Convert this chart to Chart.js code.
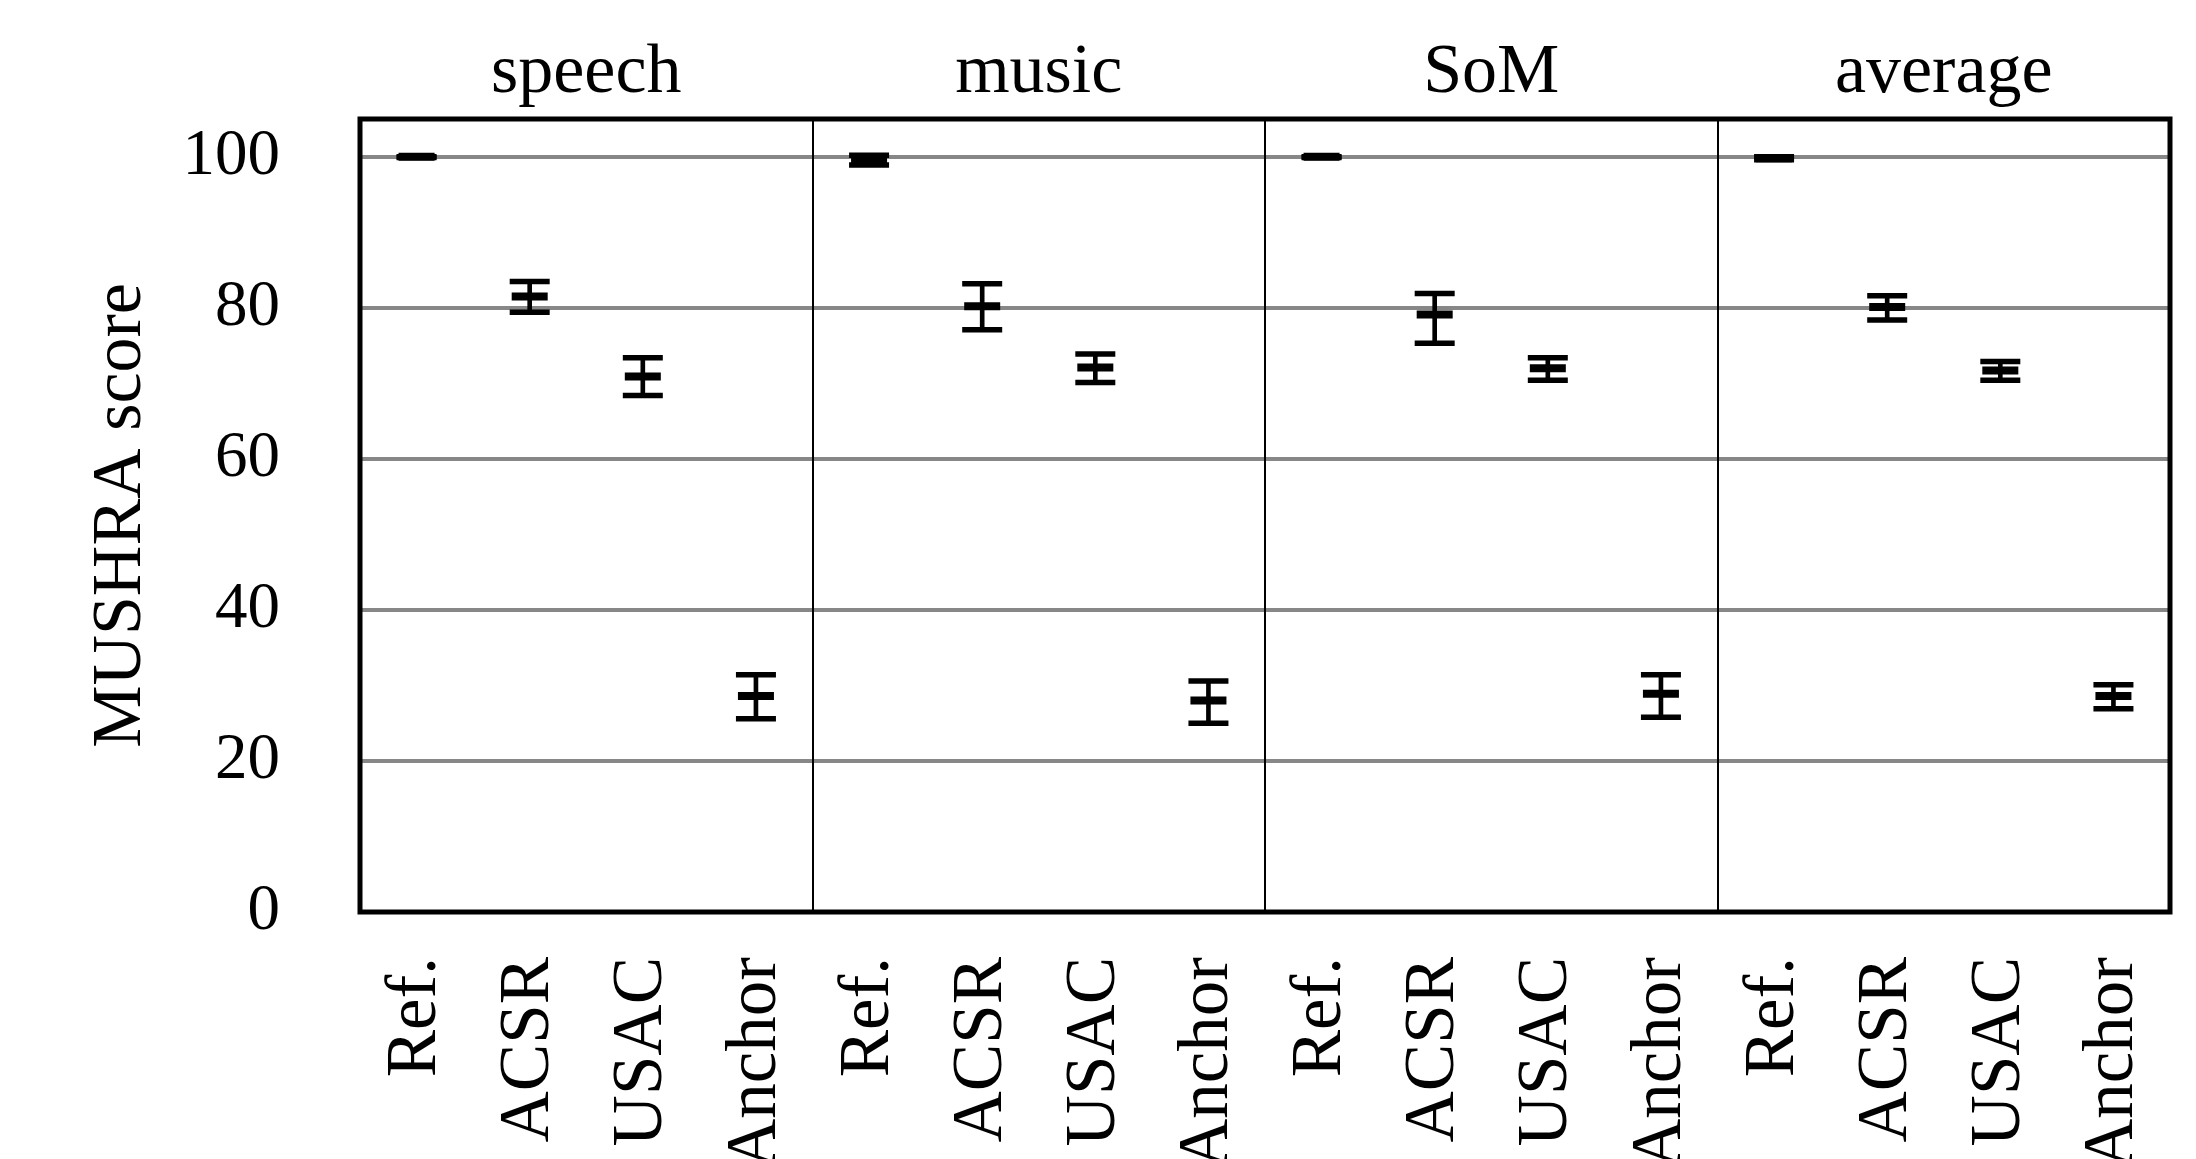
<!DOCTYPE html>
<html>
<head>
<meta charset="utf-8">
<title>MUSHRA scores</title>
<script src="https://cdn.jsdelivr.net/npm/chart.js@4.4.1/dist/chart.umd.min.js"></script>
<style>
  html, body { margin: 0; padding: 0; background: #fff; overflow: hidden; }
  #wrap { width: 2196px; height: 1159px; }
</style>
</head>
<body>
<div id="wrap"><canvas id="chart" width="2196" height="1159"></canvas></div>
<script>
// Test conditions (panels) and systems within each panel
const panels = ['speech', 'music', 'SoM', 'average'];
const systems = ['Ref.', 'ACSR', 'USAC', 'Anchor'];
const yTicks = [0, 20, 40, 60, 80, 100];

// Mean MUSHRA scores, one entry per system
const meanSpeech  = [100.0, 81.5, 70.9, 28.6];
const meanMusic   = [99.5, 80.2, 72.1, 28.0];
const meanSoM     = [100.0, 79.1, 72.0, 28.9];
const meanAverage = [99.8, 80.1, 71.7, 28.6];

// Lower ends of the confidence intervals
const lowSpeech  = [99.9, 79.4, 68.4, 25.6];
const lowMusic   = [98.9, 77.1, 70.1, 25.0];
const lowSoM     = [99.9, 75.3, 70.4, 25.8];
const lowAverage = [99.6, 78.4, 70.4, 26.9];

// Upper ends of the confidence intervals
const highSpeech  = [100.0, 83.5, 73.4, 31.4];
const highMusic   = [100.2, 83.2, 73.9, 30.6];
const highSoM     = [100.0, 81.9, 73.4, 31.4];
const highAverage = [100.0, 81.6, 72.9, 30.1];

const labels = panels.flatMap(() => systems);
const means = [...meanSpeech, ...meanMusic, ...meanSoM, ...meanAverage];
const lows  = [...lowSpeech, ...lowMusic, ...lowSoM, ...lowAverage];
const highs = [...highSpeech, ...highMusic, ...highSoM, ...highAverage];

const SERIF = 'Liberation Serif';

// Frame around the plot, separators between panels and the panel headings
const panelFrame = {
  id: 'panelFrame',
  beforeDatasetsDraw(chart) {
    const { ctx, chartArea: a, scales: { x } } = chart;
    const n = systems.length;
    ctx.save();
    ctx.strokeStyle = '#000';
    ctx.lineWidth = 2;
    for (let p = 1; p < panels.length; p++) {
      const px = Math.round(x.getPixelForValue(p * n - 0.5));
      ctx.beginPath();
      ctx.moveTo(px, a.top);
      ctx.lineTo(px, a.bottom);
      ctx.stroke();
    }
    ctx.lineWidth = 5;
    ctx.strokeRect(a.left, a.top, a.right - a.left, a.bottom - a.top);

    ctx.fillStyle = '#000';
    ctx.font = '70px "' + SERIF + '"';
    ctx.textAlign = 'center';
    ctx.textBaseline = 'alphabetic';
    panels.forEach((name, p) => {
      const l = x.getPixelForValue(p * n - 0.5);
      const r = x.getPixelForValue(p * n + n - 0.5);
      ctx.fillText(name, (l + r) / 2, a.top - 27);
    });
    ctx.restore();
  }
};

new Chart(document.getElementById('chart'), {
  type: 'bar',
  data: {
    labels: labels,
    datasets: [
      {
        // mean marker
        type: 'line',
        data: means,
        showLine: false,
        pointStyle: 'line',
        pointRadius: 18,
        pointHoverRadius: 18,
        pointBorderWidth: 8,
        pointBorderColor: '#000',
        pointBackgroundColor: '#000',
        order: 0
      },
      {
        // upper cap
        type: 'line',
        data: highs,
        showLine: false,
        pointStyle: 'line',
        pointRadius: 20,
        pointHoverRadius: 20,
        pointBorderWidth: 5.5,
        pointBorderColor: '#000',
        pointBackgroundColor: '#000',
        order: 1
      },
      {
        // lower cap
        type: 'line',
        data: lows,
        showLine: false,
        pointStyle: 'line',
        pointRadius: 20,
        pointHoverRadius: 20,
        pointBorderWidth: 5.5,
        pointBorderColor: '#000',
        pointBackgroundColor: '#000',
        order: 2
      },
      {
        // interval stem
        type: 'bar',
        data: lows.map((l, i) => [l, highs[i]]),
        backgroundColor: '#000',
        borderWidth: 0,
        barThickness: 4,
        order: 3
      }
    ]
  },
  options: {
    responsive: false,
    maintainAspectRatio: false,
    devicePixelRatio: 1,
    animation: false,
    layout: { padding: { top: 119, right: 26, left: 0, bottom: 0 } },
    plugins: {
      legend: { display: false },
      tooltip: { enabled: false }
    },
    scales: {
      x: {
        type: 'category',
        offset: true,
        grid: { display: false, drawTicks: false },
        border: { display: false },
        ticks: {
          autoSkip: false,
          minRotation: 90,
          maxRotation: 90,
          padding: 45,
          color: '#000',
          font: { family: SERIF, size: 71 }
        },
        afterFit(scale) {
          scale.height = 247;
          scale.paddingLeft = 0;
          scale.paddingRight = 0;
        }
      },
      y: {
        min: 0,
        max: 105,
        grid: { color: '#878787', lineWidth: 4, drawTicks: false },
        border: { display: false },
        afterBuildTicks(scale) { scale.ticks = yTicks.map(v => ({ value: v })); },
        ticks: {
          padding: 80,
          color: '#000',
          font: { family: SERIF, size: 65 }
        },
        title: {
          display: true,
          text: 'MUSHRA score',
          color: '#000',
          font: { family: SERIF, size: 70 },
          padding: { top: 80, bottom: 0 }
        },
        afterFit(scale) { scale.width = 360; }
      }
    }
  },
  plugins: [panelFrame]
});
</script>
</body>
</html>
